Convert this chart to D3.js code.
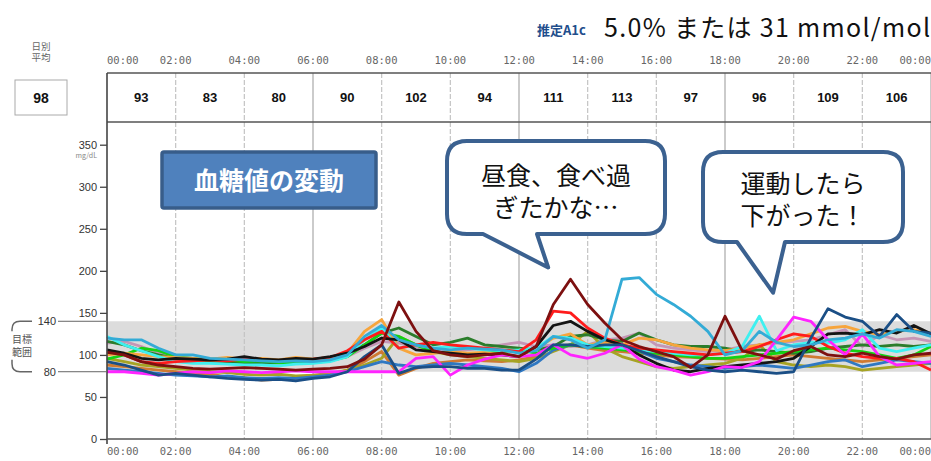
<!DOCTYPE html>
<html>
<head>
<meta charset="utf-8">
<script src="https://cdn.jsdelivr.net/npm/d3@7"></script>
<style>
  body { margin: 0; background: #fff; }
  svg { display: block; }
  text { font-family: "Noto Sans CJK JP", "Noto Sans", sans-serif; }
</style>
</head>
<body>
<script>
// --- data ---
var hours = d3.range(0, 24.01, 0.5);
var timeLabels = ["00:00","02:00","04:00","06:00","08:00","10:00","12:00","14:00","16:00","18:00","20:00","22:00","00:00"];
var blockAvg = [93, 83, 80, 90, 102, 94, 111, 113, 97, 96, 109, 106];
var dailyAvg = 98;
var yTicks = [0, 50, 100, 150, 200, 250, 300, 350];
var targetRange = [80, 140];

var sMauve = [114,116,110,102,98,94,92,93,90,89,91,90,92,94,98,108,116,114,110,106,104,106,108,112,115,110,112,110,112,118,120,126,112,108,106,104,106,110,112,114,116,118,124,130,110,124,118,120,116];
var sBrown = [88,86,84,82,80,78,77,74,73,70,71,72,74,76,82,92,104,76,84,90,92,94,93,92,94,98,110,112,108,105,104,102,100,98,97,96,95,94,96,98,100,98,96,94,92,94,96,98,100];
var sOlive = [96,92,88,86,84,82,80,79,77,76,77,75,76,78,82,88,96,122,112,104,100,98,96,94,92,96,104,112,128,108,98,92,86,84,86,88,90,96,112,92,88,86,88,86,82,84,86,88,90];
var sMidBlue = [84,82,80,78,76,75,74,75,73,72,73,72,74,76,80,86,92,88,86,88,90,88,86,84,80,90,106,112,110,108,110,104,96,92,88,86,84,86,88,86,84,88,92,94,86,90,94,92,90];
var sDkGreen = [116,112,105,100,96,94,93,92,91,90,91,90,92,94,100,112,126,132,122,112,115,120,112,110,108,106,110,122,124,118,116,126,118,112,110,110,108,104,106,104,102,104,108,110,112,110,112,110,112];
var sGreen = [95,100,108,105,98,96,95,94,92,93,91,90,91,93,98,112,126,122,112,104,102,100,102,104,106,102,108,112,110,108,106,104,102,100,98,96,96,98,100,102,104,106,108,106,104,100,96,100,110];
var sOrange = [100,102,100,98,97,96,95,97,95,96,94,97,95,97,102,128,142,108,100,102,104,102,103,100,98,108,120,125,112,115,112,120,118,112,108,106,105,108,112,115,118,125,132,134,128,124,128,130,126];
var sCyan = [122,112,105,98,92,90,90,89,88,88,87,89,90,92,98,118,132,108,112,108,110,108,106,105,106,108,122,120,112,110,108,106,104,102,100,100,102,110,146,105,112,115,114,118,130,108,104,108,112];
var sRed = [104,100,92,90,92,93,94,93,95,94,93,94,95,97,105,118,128,108,112,115,112,110,108,106,104,118,152,150,132,120,112,108,106,104,102,100,102,104,110,118,125,122,110,102,98,96,96,92,82];
var sBlack = [106,102,96,94,96,95,94,95,98,95,94,96,95,98,102,110,120,118,106,104,102,100,101,100,98,110,135,140,128,118,112,100,90,82,80,84,86,88,90,92,96,110,125,126,124,130,126,135,125];
var sMagenta = [80,80,78,76,78,80,79,81,80,79,80,81,80,80,80,80,80,80,96,98,76,88,95,100,98,100,112,100,96,102,112,95,86,82,76,80,86,85,92,118,145,140,118,100,125,98,88,90,92];
var sNavy = [92,88,82,76,78,76,74,72,71,70,71,69,72,74,80,98,112,78,85,86,86,84,84,82,82,95,112,112,110,112,112,105,98,92,86,82,80,82,80,78,80,120,155,145,140,122,148,128,126];
var sLightBlue = [120,118,118,108,100,100,96,95,94,93,92,93,92,94,100,122,135,118,112,108,106,108,107,106,102,105,122,118,108,118,190,192,172,160,146,128,100,105,128,115,110,112,118,120,125,120,130,128,122];
var sMaroon = [103,100,92,88,86,84,83,84,85,84,83,82,83,84,86,95,112,163,128,105,100,98,100,102,98,110,160,190,160,138,118,110,104,98,85,100,146,105,100,95,105,110,100,98,102,98,95,100,102];

var series = [
  { name: "mauve", color: "#c596b6", values: sMauve },
  { name: "brown", color: "#cf7a32", values: sBrown },
  { name: "olive", color: "#a6a324", values: sOlive },
  { name: "midblue", color: "#2f78c2", values: sMidBlue },
  { name: "dkgreen", color: "#2b7d2b", values: sDkGreen },
  { name: "green", color: "#14d214", values: sGreen },
  { name: "orange", color: "#f7a53c", values: sOrange },
  { name: "cyan", color: "#3ff0f0", values: sCyan },
  { name: "red", color: "#ff1c1c", values: sRed },
  { name: "black", color: "#141414", values: sBlack },
  { name: "magenta", color: "#ff24ff", values: sMagenta },
  { name: "navy", color: "#1b4f86", values: sNavy },
  { name: "lightblue", color: "#33abd6", values: sLightBlue },
  { name: "maroon", color: "#7d1010", values: sMaroon }
];

// --- layout ---
var W = 931, H = 461;
var plotLeft = 107, plotRight = 931, plotTop = 122, plotBottom = 439, headTop = 73;

var svg = d3.select("body").append("svg").attr("width", W).attr("height", H);

var x = d3.scaleLinear().domain([0, 24]).range([plotLeft, plotRight]);
var y = d3.scaleLinear().domain([0, 377]).range([plotBottom, plotTop]);

// title
svg.append("text")
   .attr("x", 537).attr("y", 35)
   .attr("fill", "#1f4e8c").style("font-size", "13px").style("font-weight", "bold")
   .text("推定A1c");
svg.append("text")
   .attr("x", 604).attr("y", 37)
   .attr("fill", "#111").style("font-size", "25px")
   .attr("textLength", 326).attr("lengthAdjust", "spacing")
   .text("5.0% または 31 mmol/mol");

// daily average
svg.append("text").attr("x", 41).attr("y", 50).attr("text-anchor", "middle")
   .attr("fill", "#666").style("font-size", "9.5px").text("日別");
svg.append("text").attr("x", 41).attr("y", 61).attr("text-anchor", "middle")
   .attr("fill", "#666").style("font-size", "9.5px").text("平均");
svg.append("rect").attr("x", 15).attr("y", 80).attr("width", 52).attr("height", 35)
   .attr("fill", "#fff").attr("stroke", "#aaa");
svg.append("text").attr("x", 41).attr("y", 103).attr("text-anchor", "middle")
   .style("font-size", "14px").style("font-weight", "bold").attr("fill", "#111")
   .style("font-family", "Arial, 'Liberation Sans'")
   .text(dailyAvg);

// target band
svg.append("rect")
   .attr("x", plotLeft).attr("y", y(targetRange[1]))
   .attr("width", plotRight - plotLeft).attr("height", y(targetRange[0]) - y(targetRange[1]))
   .attr("fill", "#dcdcdc");

// vertical grid (plot + header)
var gridHours = d3.range(2, 24.01, 2);
gridHours.forEach(function(h) {
  var solid = (h % 6 === 0);
  svg.append("line")
     .attr("x1", x(h)).attr("x2", x(h))
     .attr("y1", headTop).attr("y2", plotBottom)
     .attr("stroke", solid ? "#a8a8a8" : "#c4c4c4")
     .attr("stroke-width", 1.2)
     .attr("stroke-dasharray", solid ? null : "5,2");
});

// header box
svg.append("line").attr("x1", plotLeft).attr("x2", plotRight).attr("y1", headTop).attr("y2", headTop)
   .attr("stroke", "#555").attr("stroke-width", 1.5);
svg.append("line").attr("x1", plotLeft).attr("x2", plotRight).attr("y1", plotTop).attr("y2", plotTop)
   .attr("stroke", "#555").attr("stroke-width", 1.5);

blockAvg.forEach(function(v, i) {
  svg.append("text")
     .attr("x", x(i * 2 + 1)).attr("y", 102)
     .attr("text-anchor", "middle")
     .style("font-size", "13px").style("font-weight", "bold")
     .style("font-family", "Arial, 'Liberation Sans'")
     .attr("fill", "#111")
     .text(v);
});

// time labels top and bottom
timeLabels.forEach(function(t, i) {
  var anchor = i === 0 ? "start" : (i === timeLabels.length - 1 ? "end" : "middle");
  [64, 455].forEach(function(yy) {
    svg.append("text")
       .attr("x", x(i * 2)).attr("y", yy)
       .attr("text-anchor", anchor)
       .style("font-family", "'DejaVu Sans Mono', monospace")
       .style("font-size", "10.5px")
       .attr("fill", "#666")
       .text(t);
  });
});

// lines
var line = d3.line()
  .x(function(d, i) { return x(hours[i]); })
  .y(function(d) { return y(d); });

series.forEach(function(s) {
  svg.append("path")
     .datum(s.values)
     .attr("fill", "none")
     .attr("stroke", s.color)
     .attr("stroke-width", 2.8)
     .attr("stroke-linejoin", "round")
     .attr("d", line);
});

// y axis
var yAxis = d3.axisLeft(y).tickValues(yTicks).tickSize(7).tickPadding(3);
var gy = svg.append("g").attr("transform", "translate(" + plotLeft + ",0)").call(yAxis);
gy.select(".domain").remove();
gy.selectAll("line").attr("stroke", "#444").attr("stroke-width", 1.3);
gy.selectAll("text").attr("fill", "#333")
  .style("font-size", "11px").style("font-family", "Arial, 'Liberation Sans'");

svg.append("text").attr("x", 97).attr("y", 158).attr("text-anchor", "end")
   .attr("fill", "#888").style("font-size", "7px").text("mg/dL");

// axis lines
svg.append("line").attr("x1", plotLeft).attr("x2", plotLeft).attr("y1", headTop).attr("y2", plotBottom + 5)
   .attr("stroke", "#444").attr("stroke-width", 1.6);
svg.append("line").attr("x1", plotLeft).attr("x2", plotRight).attr("y1", plotBottom).attr("y2", plotBottom)
   .attr("stroke", "#555").attr("stroke-width", 1.6);

// target labels
targetRange.forEach(function(v) {
  svg.append("line").attr("x1", 58).attr("x2", plotLeft).attr("y1", y(v)).attr("y2", y(v))
     .attr("stroke", "#666").attr("stroke-width", 1);
  svg.append("text").attr("x", 56).attr("y", y(v) + 4).attr("text-anchor", "end")
     .attr("fill", "#333").style("font-size", "11px")
     .style("font-family", "Arial, 'Liberation Sans'").text(v);
});
var bt = y(targetRange[1]), bb = y(targetRange[0]);
svg.append("path")
   .attr("d", "M32," + bt + " L20," + bt + " Q12," + bt + " 12," + (bt + 8) + " L12," + (bt + 10))
   .attr("fill", "none").attr("stroke", "#666").attr("stroke-width", 1.5);
svg.append("path")
   .attr("d", "M12," + (bb - 12) + " L12," + (bb - 8) + " Q12," + bb + " 20," + bb + " L32," + bb)
   .attr("fill", "none").attr("stroke", "#666").attr("stroke-width", 1.5);
svg.append("text").attr("x", 22).attr("y", 343).attr("text-anchor", "middle")
   .attr("fill", "#555").style("font-size", "10px").text("目標");
svg.append("text").attr("x", 22).attr("y", 356).attr("text-anchor", "middle")
   .attr("fill", "#555").style("font-size", "10px").text("範囲");

// annotation: title box
svg.append("rect").attr("x", 162).attr("y", 152).attr("width", 214).attr("height", 56)
   .attr("fill", "#4f81bd").attr("stroke", "#385d8a").attr("stroke-width", 3.5).attr("rx", 2);
svg.append("text").attr("x", 269).attr("y", 190).attr("text-anchor", "middle")
   .attr("fill", "#fff").style("font-size", "25px").style("font-weight", "bold")
   .text("血糖値の変動");

// speech bubbles
function bubble(x0, y0, x1, y1, r, pA, tip, pB, lines, lineY) {
  var p = d3.path();
  p.moveTo(x0 + r, y0);
  p.lineTo(x1 - r, y0);
  p.quadraticCurveTo(x1, y0, x1, y0 + r);
  p.lineTo(x1, y1 - r);
  p.quadraticCurveTo(x1, y1, x1 - r, y1);
  p.lineTo(pB, y1);
  p.lineTo(tip[0], tip[1]);
  p.lineTo(pA, y1);
  p.lineTo(x0 + r, y1);
  p.quadraticCurveTo(x0, y1, x0, y1 - r);
  p.lineTo(x0, y0 + r);
  p.quadraticCurveTo(x0, y0, x0 + r, y0);
  p.closePath();
  svg.append("path").attr("d", p.toString())
     .attr("fill", "#fff").attr("stroke", "#3b6190").attr("stroke-width", 4)
     .attr("stroke-linejoin", "round");
  lines.forEach(function(t, i) {
    svg.append("text").attr("x", (x0 + x1) / 2).attr("y", lineY[i])
       .attr("text-anchor", "middle").attr("fill", "#111")
       .style("font-size", "25px").text(t);
  });
}
bubble(447, 141, 665, 234, 20, 483, [x(12.85), y(204)], 537,
       ["昼食、食べ過", "ぎたかな…"], [185, 217]);
bubble(703, 152, 903, 242, 20, 737, [x(19.4), y(174)], 785,
       ["運動したら", "下がった！"], [193, 225]);
</script>
</body>
</html>
